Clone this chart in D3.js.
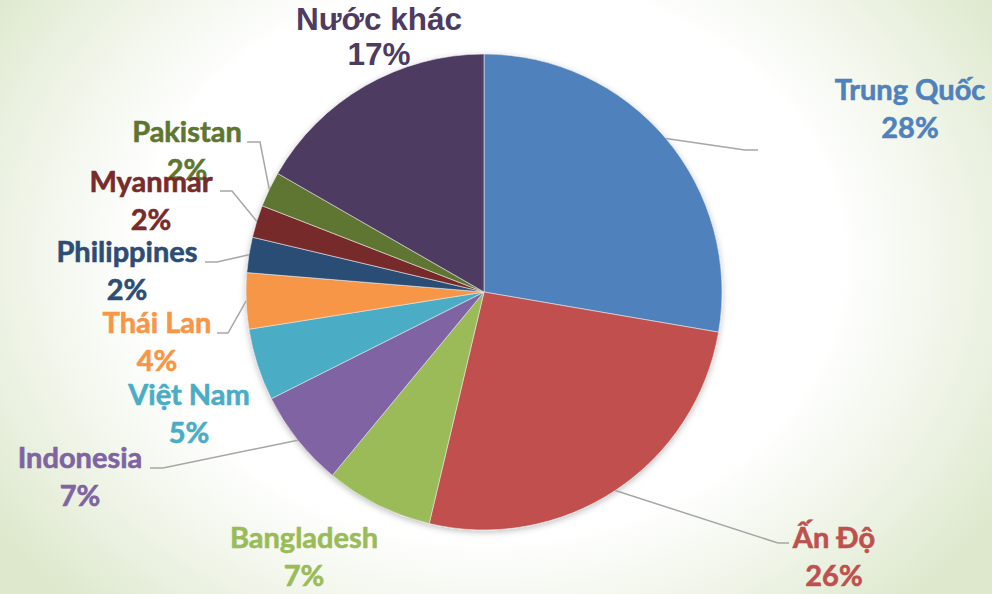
<!DOCTYPE html>
<html lang="vi">
<head>
<meta charset="UTF-8">
<title>Pie</title>
<script src="https://d3js.org/d3.v7.min.js"></script>
<style>
    html, body { margin: 0; padding: 0; }
    body { width: 992px; height: 594px; overflow: hidden; }
    .lbl { font-family: Lato, "Open Sans", sans-serif; font-weight: bold; font-size: 29px; text-anchor: middle; stroke-width: 0.6px; }
    .lbl-arial { font-family: "Liberation Sans", Arial, sans-serif; font-weight: bold; font-size: 31.5px; text-anchor: middle; }
    .leader { fill: none; stroke: #a6a6a6; stroke-width: 1.5px; }
</style>
</head>
<body>
<svg id="chart"></svg>
<script>
    // data
    const countries = ["Trung Quốc", "Ấn Độ", "Bangladesh", "Indonesia", "Việt Nam",
        "Thái Lan", "Philippines", "Myanmar", "Pakistan", "Nước khác"];
    const shares = [27.7, 26.0, 7.3, 6.6, 4.9, 3.8, 2.4, 2.2, 2.4, 16.7];
    const colors = ["#4f81bd", "#c0504d", "#9bbb59", "#8064a2", "#4bacc6",
        "#f79646", "#2c4d75", "#772c2a", "#5f7530", "#4d3b62"];

    // label layout (center x, first baseline) and leader elbows
    const labelPos = [[910, 100], [834, 548], [304, 548], [80, 468], [189, 405],
        [157, 333], [127, 262], [151, 192], [187, 142], [379, 30]];
    const leaders = [
        [[745, 150], [758, 150]],
        [[778, 543], [789, 543]],
        null,
        [[163, 468], [150, 468]],
        null,
        [[228, 333], [217, 333]],
        [[217, 262], [205, 262]],
        [[232, 191], [220, 191]],
        [[260, 142], [247, 142]],
        null
    ];

    const width = 992, height = 594;
    const cx = 484, cy = 292, radius = 238;

    const svg = d3.select("#chart")
        .attr("width", width)
        .attr("height", height);

    const defs = svg.append("defs");
    const bg = defs.append("radialGradient")
        .attr("id", "bg")
        .attr("gradientUnits", "userSpaceOnUse")
        .attr("cx", 490).attr("cy", 260).attr("r", 600)
        .attr("gradientTransform", "translate(490,260) scale(1,0.8) translate(-490,-260)");
    bg.append("stop").attr("offset", "0.58").attr("stop-color", "#ffffff");
    bg.append("stop").attr("offset", "0.85").attr("stop-color", "#eaf1e0");
    bg.append("stop").attr("offset", "1").attr("stop-color", "#dde8cc");

    const shadow = defs.append("filter").attr("id", "shadow")
        .attr("x", "-10%").attr("y", "-10%").attr("width", "120%").attr("height", "120%");
    shadow.append("feDropShadow")
        .attr("dx", 0).attr("dy", 2).attr("stdDeviation", 3)
        .attr("flood-color", "#000").attr("flood-opacity", 0.25);

    svg.append("rect")
        .attr("width", width).attr("height", height)
        .attr("fill", "url(#bg)");

    const data = countries.map((c, i) => ({ name: c, value: shares[i], color: colors[i], i: i }));
    const total = d3.sum(shares);

    const pie = d3.pie().value(d => d.value).sort(null);
    const arcs = pie(data);
    const arc = d3.arc().innerRadius(0).outerRadius(radius);

    const g = svg.append("g").attr("transform", `translate(${cx},${cy})`);

    g.append("g")
        .attr("filter", "url(#shadow)")
        .selectAll("path")
        .data(arcs)
        .enter()
        .append("path")
        .attr("d", arc)
        .attr("fill", d => d.data.color)
        .attr("stroke", "#e8e8e8")
        .attr("stroke-width", 0.6);

    // leader lines: start on the rim at the slice mid angle
    arcs.forEach(d => {
        const pts = leaders[d.data.i];
        if (!pts) return;
        const a = (d.startAngle + d.endAngle) / 2;
        const start = [cx + radius * Math.sin(a), cy - radius * Math.cos(a)];
        svg.append("path")
            .attr("class", "leader")
            .attr("d", d3.line()([start, ...pts]));
    });

    // labels (drawn in reverse so Myanmar sits above Pakistan)
    const labels = svg.append("g");
    arcs.slice().reverse().forEach(d => {
        const [x, y] = labelPos[d.data.i];
        const t = labels.append("text")
            .attr("class", d.data.i === 9 ? "lbl-arial" : "lbl")
            .attr("fill", d.data.color)
            .attr("stroke", d.data.i === 9 ? "none" : d.data.color)
            .attr("x", x).attr("y", y);
        t.append("tspan").attr("x", x).text(d.data.name);
        t.append("tspan").attr("x", x).attr("dy", d.data.i === 9 ? 35 : 38)
            .text(Math.round(d.data.value / total * 100) + "%");
    });
</script>
</body>
</html>
